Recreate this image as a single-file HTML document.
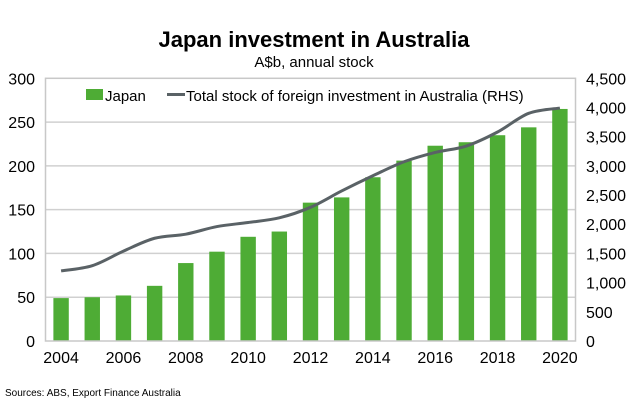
<!DOCTYPE html>
<html><head><meta charset="utf-8"><style>
body{margin:0;background:#fff;font-family:"Liberation Sans",Arial,sans-serif;}
svg text{font-family:"Liberation Sans",Arial,sans-serif;}
</style></head><body>
<svg id="chart" width="629" height="414" viewBox="0 0 629 414">
<text x="314" y="47" text-anchor="middle" font-size="22" font-weight="bold">Japan investment in Australia</text>
<text x="314" y="67" text-anchor="middle" font-size="15">A$b, annual stock</text>
<g id="grid"></g><g id="bars"></g><g id="line"></g><g id="axes"></g>
<g>
<rect x="86" y="89" width="17" height="11" fill="#4eac35"/>
<text x="105" y="101" font-size="15">Japan</text>
<line x1="167" y1="94.5" x2="185" y2="94.5" stroke="#5a6266" stroke-width="3"/>
<text x="186" y="101" font-size="15">Total stock of foreign investment in Australia (RHS)</text>
</g>
<text x="5" y="396" font-size="10">Sources: ABS, Export Finance Australia</text>
</svg>
<script>
const years=[2004,2005,2006,2007,2008,2009,2010,2011,2012,2013,2014,2015,2016,2017,2018,2019,2020];
const japan=[49,50,52,63,89,102,119,125,158,164,187,206,223,227,235,244,265];
const total=[1200,1290,1540,1760,1830,1960,2030,2110,2290,2570,2830,3070,3230,3340,3580,3900,3990];
const leftTicks=[0,50,100,150,200,250,300];
const rightTicks=[0,500,1000,1500,2000,2500,3000,3500,4000,4500];
const xLabels=[2004,2006,2008,2010,2012,2014,2016,2018,2020];
const NS='http://www.w3.org/2000/svg';
const L=45.5,R=575.5,T=78.3,B=341;
const band=(R-L)/years.length;
const xc=i=>L+band*(i+0.5);
const yL=v=>B-(v/300)*(B-T);
const yR=v=>B-(v/4500)*(B-T);
function mk(tag,attrs,parent){const e=document.createElementNS(NS,tag);for(const k in attrs)e.setAttribute(k,attrs[k]);document.getElementById(parent).appendChild(e);return e;}
leftTicks.forEach(v=>{
  if(v>0&&v<300){const g=mk('line',{x1:L,x2:R,y1:yL(v),y2:yL(v),stroke:'#d0d0d0','stroke-width':1.5},'grid');
  
  }
  const t=mk('text',{x:35,y:yL(v)+6,'text-anchor':'end','font-size':16},'axes');t.textContent=v;
  
  
});
rightTicks.forEach(v=>{
  const t=mk('text',{x:586,y:yR(v)+6,'font-size':16},'axes');t.textContent=v.toLocaleString('en-US');
  
  
});
const fr=mk('rect',{x:L,y:T,width:R-L,height:B-T,fill:'none',stroke:'#c8c8c8','stroke-width':1.5},'axes');


japan.forEach((v,i)=>{
  const b=mk('rect',{x:xc(i)-7.7,y:yL(v),width:15.4,height:B-yL(v),fill:'#4eac35'},'bars');
  
  
});
const pts=total.map((v,i)=>[xc(i),yR(v)]);
let d='M'+pts[0][0]+','+pts[0][1];
for(let i=0;i<pts.length-1;i++){
  const p0=pts[Math.max(0,i-1)],p1=pts[i],p2=pts[i+1],p3=pts[Math.min(pts.length-1,i+2)];
  const c1=[p1[0]+(p2[0]-p0[0])/6,p1[1]+(p2[1]-p0[1])/6],c2=[p2[0]-(p3[0]-p1[0])/6,p2[1]-(p3[1]-p1[1])/6];
  d+=` C${c1[0]},${c1[1]} ${c2[0]},${c2[1]} ${p2[0]},${p2[1]}`;
}
const ln=mk('path',{d:d,fill:'none',stroke:'#5a6266','stroke-width':3},'line');


xLabels.forEach(y=>{
  const i=years.indexOf(y);
  const t=mk('text',{x:xc(i),y:363,'text-anchor':'middle','font-size':16},'axes');t.textContent=y;
  
  
});
</script>
</body></html>
